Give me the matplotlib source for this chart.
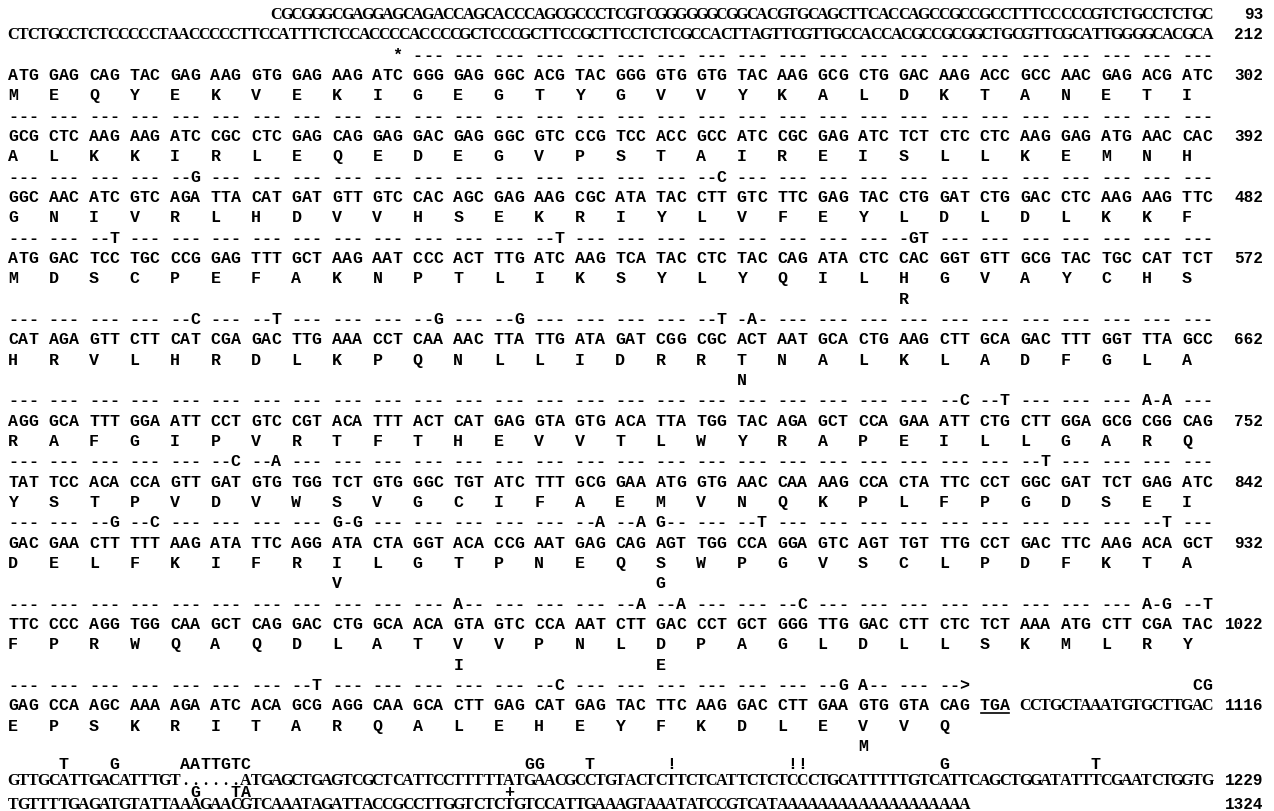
import matplotlib
matplotlib.use('Agg')
import matplotlib.pyplot as plt

# 5' untranslated sequence (top) with running nucleotide numbers
utr_lines = [
    "CGCGGGCGAGGAGCAGACCAGCACCCAGCGCCCTCGTCGGGGGGCGGCACGTGCAGCTTCACCAGCCGCCGCCTTTCCCCCGTCTGCCTCTGC",
    "CTCTGCCTCTCCCCCTAACCCCCTTCCATTTCTCCACCCCACCCCGCTCCCGCTTCCGCTTCCTCTCGCCACTTAGTTCGTTGCCACCACGCCGCGGCTGCGTTCGCATTGGGGCACGCA",
]
utr_numbers = ["93", "212"]

# coding region: codons, translation, differences in the second clone
codon_rows = [
    "ATG GAG CAG TAC GAG AAG GTG GAG AAG ATC GGG GAG GGC ACG TAC GGG GTG GTG TAC AAG GCG CTG GAC AAG ACC GCC AAC GAG ACG ATC",
    "GCG CTC AAG AAG ATC CGC CTC GAG CAG GAG GAC GAG GGC GTC CCG TCC ACC GCC ATC CGC GAG ATC TCT CTC CTC AAG GAG ATG AAC CAC",
    "GGC AAC ATC GTC AGA TTA CAT GAT GTT GTC CAC AGC GAG AAG CGC ATA TAC CTT GTC TTC GAG TAC CTG GAT CTG GAC CTC AAG AAG TTC",
    "ATG GAC TCC TGC CCG GAG TTT GCT AAG AAT CCC ACT TTG ATC AAG TCA TAC CTC TAC CAG ATA CTC CAC GGT GTT GCG TAC TGC CAT TCT",
    "CAT AGA GTT CTT CAT CGA GAC TTG AAA CCT CAA AAC TTA TTG ATA GAT CGG CGC ACT AAT GCA CTG AAG CTT GCA GAC TTT GGT TTA GCC",
    "AGG GCA TTT GGA ATT CCT GTC CGT ACA TTT ACT CAT GAG GTA GTG ACA TTA TGG TAC AGA GCT CCA GAA ATT CTG CTT GGA GCG CGG CAG",
    "TAT TCC ACA CCA GTT GAT GTG TGG TCT GTG GGC TGT ATC TTT GCG GAA ATG GTG AAC CAA AAG CCA CTA TTC CCT GGC GAT TCT GAG ATC",
    "GAC GAA CTT TTT AAG ATA TTC AGG ATA CTA GGT ACA CCG AAT GAG CAG AGT TGG CCA GGA GTC AGT TGT TTG CCT GAC TTC AAG ACA GCT",
    "TTC CCC AGG TGG CAA GCT CAG GAC CTG GCA ACA GTA GTC CCA AAT CTT GAC CCT GCT GGG TTG GAC CTT CTC TCT AAA ATG CTT CGA TAC",
    "GAG CCA AGC AAA AGA ATC ACA GCG AGG CAA GCA CTT GAG CAT GAG TAC TTC AAG GAC CTT GAA GTG GTA CAG TGA",
]
codon_numbers = ["302", "392", "482", "572", "662", "752", "842", "932", "1022", "1116"]

amino_rows = [
    "M E Q Y E K V E K I G E G T Y G V V Y K A L D K T A N E T I",
    "A L K K I R L E Q E D E G V P S T A I R E I S L L K E M N H",
    "G N I V R L H D V V H S E K R I Y L V F E Y L D L D L K K F",
    "M D S C P E F A K N P T L I K S Y L Y Q I L H G V A Y C H S",
    "H R V L H R D L K P Q N L L I D R R T N A L K L A D F G L A",
    "R A F G I P V R T F T H E V V T L W Y R A P E I L L G A R Q",
    "Y S T P V D V W S V G C I F A E M V N Q K P L F P G D S E I",
    "D E L F K I F R I L G T P N E Q S W P G V S C L P D F K T A",
    "F P R W Q A Q D L A T V V P N L D P A G L D L L S K M L R Y",
    "E P S K R I T A R Q A L E H E Y F K D L E V V Q",
]

# amino-acid changes in the second clone (codon index -> residue)
amino_changes = [
    {}, {}, {}, {22: "R"}, {18: "N"}, {}, {}, {8: "V", 16: "G"}, {11: "I", 16: "E"}, {21: "M"},
]

# '---' = identical codon, letters = substituted base, '_' = no sequence
diff_rows = [
    "___ ___ ___ ___ ___ ___ ___ ___ ___ __* --- --- --- --- --- --- --- --- --- --- --- --- --- --- --- --- --- --- --- ---",
    "--- --- --- --- --- --- --- --- --- --- --- --- --- --- --- --- --- --- --- --- --- --- --- --- --- --- --- --- --- ---",
    "--- --- --- --- --G --- --- --- --- --- --- --- --- --- --- --- --- --C --- --- --- --- --- --- --- --- --- --- --- ---",
    "--- --- --T --- --- --- --- --- --- --- --- --- --- --T --- --- --- --- --- --- --- --- -GT --- --- --- --- --- --- ---",
    "--- --- --- --- --C --- --T --- --- --- --G --- --G --- --- --- --- --T -A- --- --- --- --- --- --- --- --- --- --- ---",
    "--- --- --- --- --- --- --- --- --- --- --- --- --- --- --- --- --- --- --- --- --- --- --- --C --T --- --- --- A-A ---",
    "--- --- --- --- --- --C --A --- --- --- --- --- --- --- --- --- --- --- --- --- --- --- --- --- --- --T --- --- --- ---",
    "--- --- --G --C --- --- --- --- G-G --- --- --- --- --- --A --A G-- --- --T --- --- --- --- --- --- --- --- --- --T ---",
    "--- --- --- --- --- --- --- --- --- --- --- A-- --- --- --- --A --A --- --- --C --- --- --- --- --- --- --- --- A-G --T",
    "--- --- --- --- --- --- --- --T --- --- --- --- --- --C --- --- --- --- --- --- --G A-- --- -->",
]

# 3' untranslated region
tail_after_stop = "CCTGCTAAATGTGCTTGAC"
tail_diff = "_________________CG"
utr3_lines = [
    "GTTGCATTGACATTTGT......ATGAGCTGAGTCGCTCATTCCTTTTTATGAACGCCTGTACTCTTCTCATTCTCTCCCTGCATTTTTGTCATTCAGCTGGATATTTCGAATCTGGTG",
    "TGTTTTGAGATGTATTAAAGAACGTCAAATAGATTACCGCCTTGGTCTCTGTCCATTGAAAGTAAATATCCGTCATAAAAAAAAAAAAAAAAAAA",
]
utr3_numbers = ["1229", "1324"]
utr3_above = [
    {5: "T", 10: "G", 17: "AATTGTC", 51: "GG", 57: "T", 65: "!", 77: "!!", 92: "G", 107: "T"},
    {18: "G", 22: "TA", 49: "+"},
]

W, H = 1274, 811
PITCH = 10.12
X0 = 8
Y0 = 14
DY = 20.33          # line spacing in the coding block
NUM_X = 1263

MONO = dict(family='Liberation Mono', fontweight='bold', fontsize=12, color='black')
NUMS = dict(family='Liberation Mono', fontweight='bold', fontsize=11.5, color='black')
SERIF = dict(family='Liberation Serif', fontweight='bold', fontsize=11.5, color='black')

fig = plt.figure(figsize=(W / 100, H / 100), dpi=100)
ax = fig.add_axes([0, 0, 1, 1])
ax.set_xlim(0, W)
ax.set_ylim(H, 0)
ax.axis('off')


def put(y, col, s, style, pitch=PITCH, x0=X0):
    for k, ch in enumerate(s):
        if ch in ' _':
            continue
        ax.text(x0 + (col + k + 0.5) * pitch, y + 5, ch, ha='center', va='baseline', **style)


def number(y, s):
    ax.text(NUM_X, y + 5, s, ha='right', va='baseline', **NUMS)


x_end = X0 + 119 * PITCH
y = Y0
# top lines end flush with the codon rows
for s, n in zip(utr_lines, utr_numbers):
    if len(s) > 110:
        p = (x_end - X0) / len(s)
        put(y, 0, s, SERIF, pitch=p)
    else:
        put(y, 119 - len(s), s, SERIF)
    number(y, n)
    y += DY

for b in range(len(codon_rows)):
    put(y, 0, diff_rows[b], MONO)
    if b == len(codon_rows) - 1:
        put(y, 100, tail_diff, MONO)
    y += DY
    put(y, 0, codon_rows[b], MONO)
    number(y, codon_numbers[b])
    if b == len(codon_rows) - 1:
        put(y, 100, tail_after_stop, SERIF)
        # stop codon underlined
        ax.plot([X0 + 96 * PITCH + 1, X0 + 99 * PITCH - 1], [y + 7.5, y + 7.5], color='black', lw=1.2)
    y += DY
    for i, aa in enumerate(amino_rows[b].split()):
        put(y, 4 * i, aa, MONO)
    y += DY
    if amino_changes[b]:
        for i, aa in amino_changes[b].items():
            put(y, 4 * i, aa, MONO)
        y += DY

# 3' lines are packed tighter than the coding block
y = y - DY + 18
for marks, s, n in zip(utr3_above, utr3_lines, utr3_numbers):
    for col, txt in marks.items():
        put(y, col, txt, MONO)
    y += 16 if n == "1229" else 12
    put(y, 0, s, SERIF)
    number(y, n)
    y += 12

fig.savefig('out.png', dpi=100, facecolor='white')
